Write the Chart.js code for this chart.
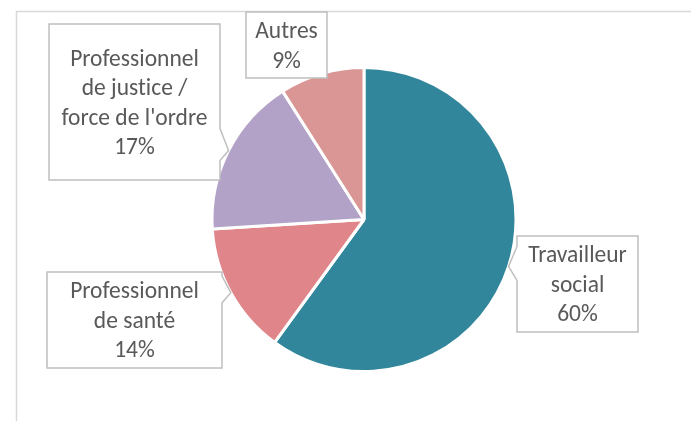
<!DOCTYPE html>
<html>
<head>
<meta charset="utf-8">
<script src="https://cdn.jsdelivr.net/npm/chart.js@4"></script>
<style>
    html, body { margin: 0; padding: 0; background: #fff; }
    #wrap { width: 691px; height: 421px; }
</style>
</head>
<body>
<div id="wrap"><canvas id="pie" width="691" height="421"></canvas></div>
<script>
// data
const categories = ['Travailleur social', 'Professionnel de santé', "Professionnel de justice / force de l'ordre", 'Autres'];
const values = [60, 14, 17, 9];
const labelLines = [
    ['Travailleur', 'social'],
    ['Professionnel', 'de santé'],
    ['Professionnel', 'de justice /', "force de l'ordre"],
    ['Autres']
];
const colors = ['#31869b', '#e0868a', '#b2a2c7', '#da9694'];

// where the callout boxes sit (x, y, w, h)
const boxes = [
    { x: 517, y: 236, w: 121, h: 96 },
    { x: 47, y: 272, w: 175, h: 96 },
    { x: 49, y: 24, w: 171, h: 156 },
    { x: 246, y: 12, w: 81, h: 66 }
];

const total = values.reduce((a, b) => a + b, 0);

const framePlugin = {
    id: 'frame',
    beforeDraw(chart) {
        const ctx = chart.ctx;
        ctx.save();
        ctx.fillStyle = '#fff';
        ctx.fillRect(0, 0, chart.width, chart.height);
        ctx.strokeStyle = '#d9d9d9';
        ctx.lineWidth = 1.5;
        ctx.beginPath();
        ctx.moveTo(16.5, chart.height);
        ctx.lineTo(16.5, 11.5);
        ctx.lineTo(chart.width, 11.5);
        ctx.stroke();
        ctx.restore();
    }
};

const calloutPlugin = {
    id: 'callouts',
    afterDatasetsDraw(chart) {
        const ctx = chart.ctx;
        const arcs = chart.getDatasetMeta(0).data;
        ctx.save();
        arcs.forEach(function (arc, i) {
            const p = arc.getProps(['x', 'y', 'startAngle', 'endAngle', 'outerRadius'], true);
            const mid = (p.startAngle + p.endAngle) / 2;
            const tx = p.x + Math.cos(mid) * p.outerRadius;
            const ty = p.y + Math.sin(mid) * p.outerRadius;
            const b = boxes[i];
            const x1 = b.x, y1 = b.y, x2 = b.x + b.w, y2 = b.y + b.h;
            const inside = tx >= x1 && tx <= x2 && ty >= y1 && ty <= y2;

            ctx.beginPath();
            ctx.moveTo(x1, y1);
            ctx.lineTo(x2, y1);
            if (!inside && tx > x2) {
                const a = Math.max(y1 + 4, ty - 22), c = Math.min(y2 - 4, ty + 10);
                ctx.lineTo(x2, a);
                ctx.lineTo(tx, ty);
                ctx.lineTo(x2, c);
            }
            ctx.lineTo(x2, y2);
            ctx.lineTo(x1, y2);
            if (!inside && tx < x1) {
                const a = Math.min(y2 - 4, ty + 14), c = Math.max(y1 + 4, ty - 20);
                ctx.lineTo(x1, a);
                ctx.lineTo(tx, ty);
                ctx.lineTo(x1, c);
            }
            ctx.closePath();
            ctx.fillStyle = '#fff';
            ctx.fill();
            ctx.strokeStyle = '#bfbfbf';
            ctx.lineWidth = 1.5;
            ctx.stroke();

            const lines = labelLines[i].concat([Math.round(values[i] / total * 100) + '%']);
            const lh = 29.5;
            const cy = b.y + b.h / 2 + 2;
            ctx.fillStyle = '#595959';
            ctx.font = '23.5px Carlito, Lato, "Open Sans", sans-serif';
            ctx.letterSpacing = '0.01px'; // keeps "ti" from joining
            ctx.textAlign = 'center';
            ctx.textBaseline = 'middle';
            lines.forEach(function (t, k) {
                ctx.fillText(t, b.x + b.w / 2, cy + (k - (lines.length - 1) / 2) * lh);
            });
        });
        ctx.restore();
    }
};

new Chart(document.getElementById('pie'), {
    type: 'pie',
    data: {
        labels: categories,
        datasets: [{
            data: values,
            backgroundColor: colors,
            borderColor: '#ffffff',
            borderWidth: 3,
            hoverOffset: 0
        }]
    },
    options: {
        responsive: false,
        animation: false,
        layout: {
            padding: { top: 66, bottom: 48, left: 37, right: 0 }
        },
        plugins: {
            legend: { display: false },
            tooltip: { enabled: false }
        }
    },
    plugins: [framePlugin, calloutPlugin]
});
</script>
</body>
</html>
